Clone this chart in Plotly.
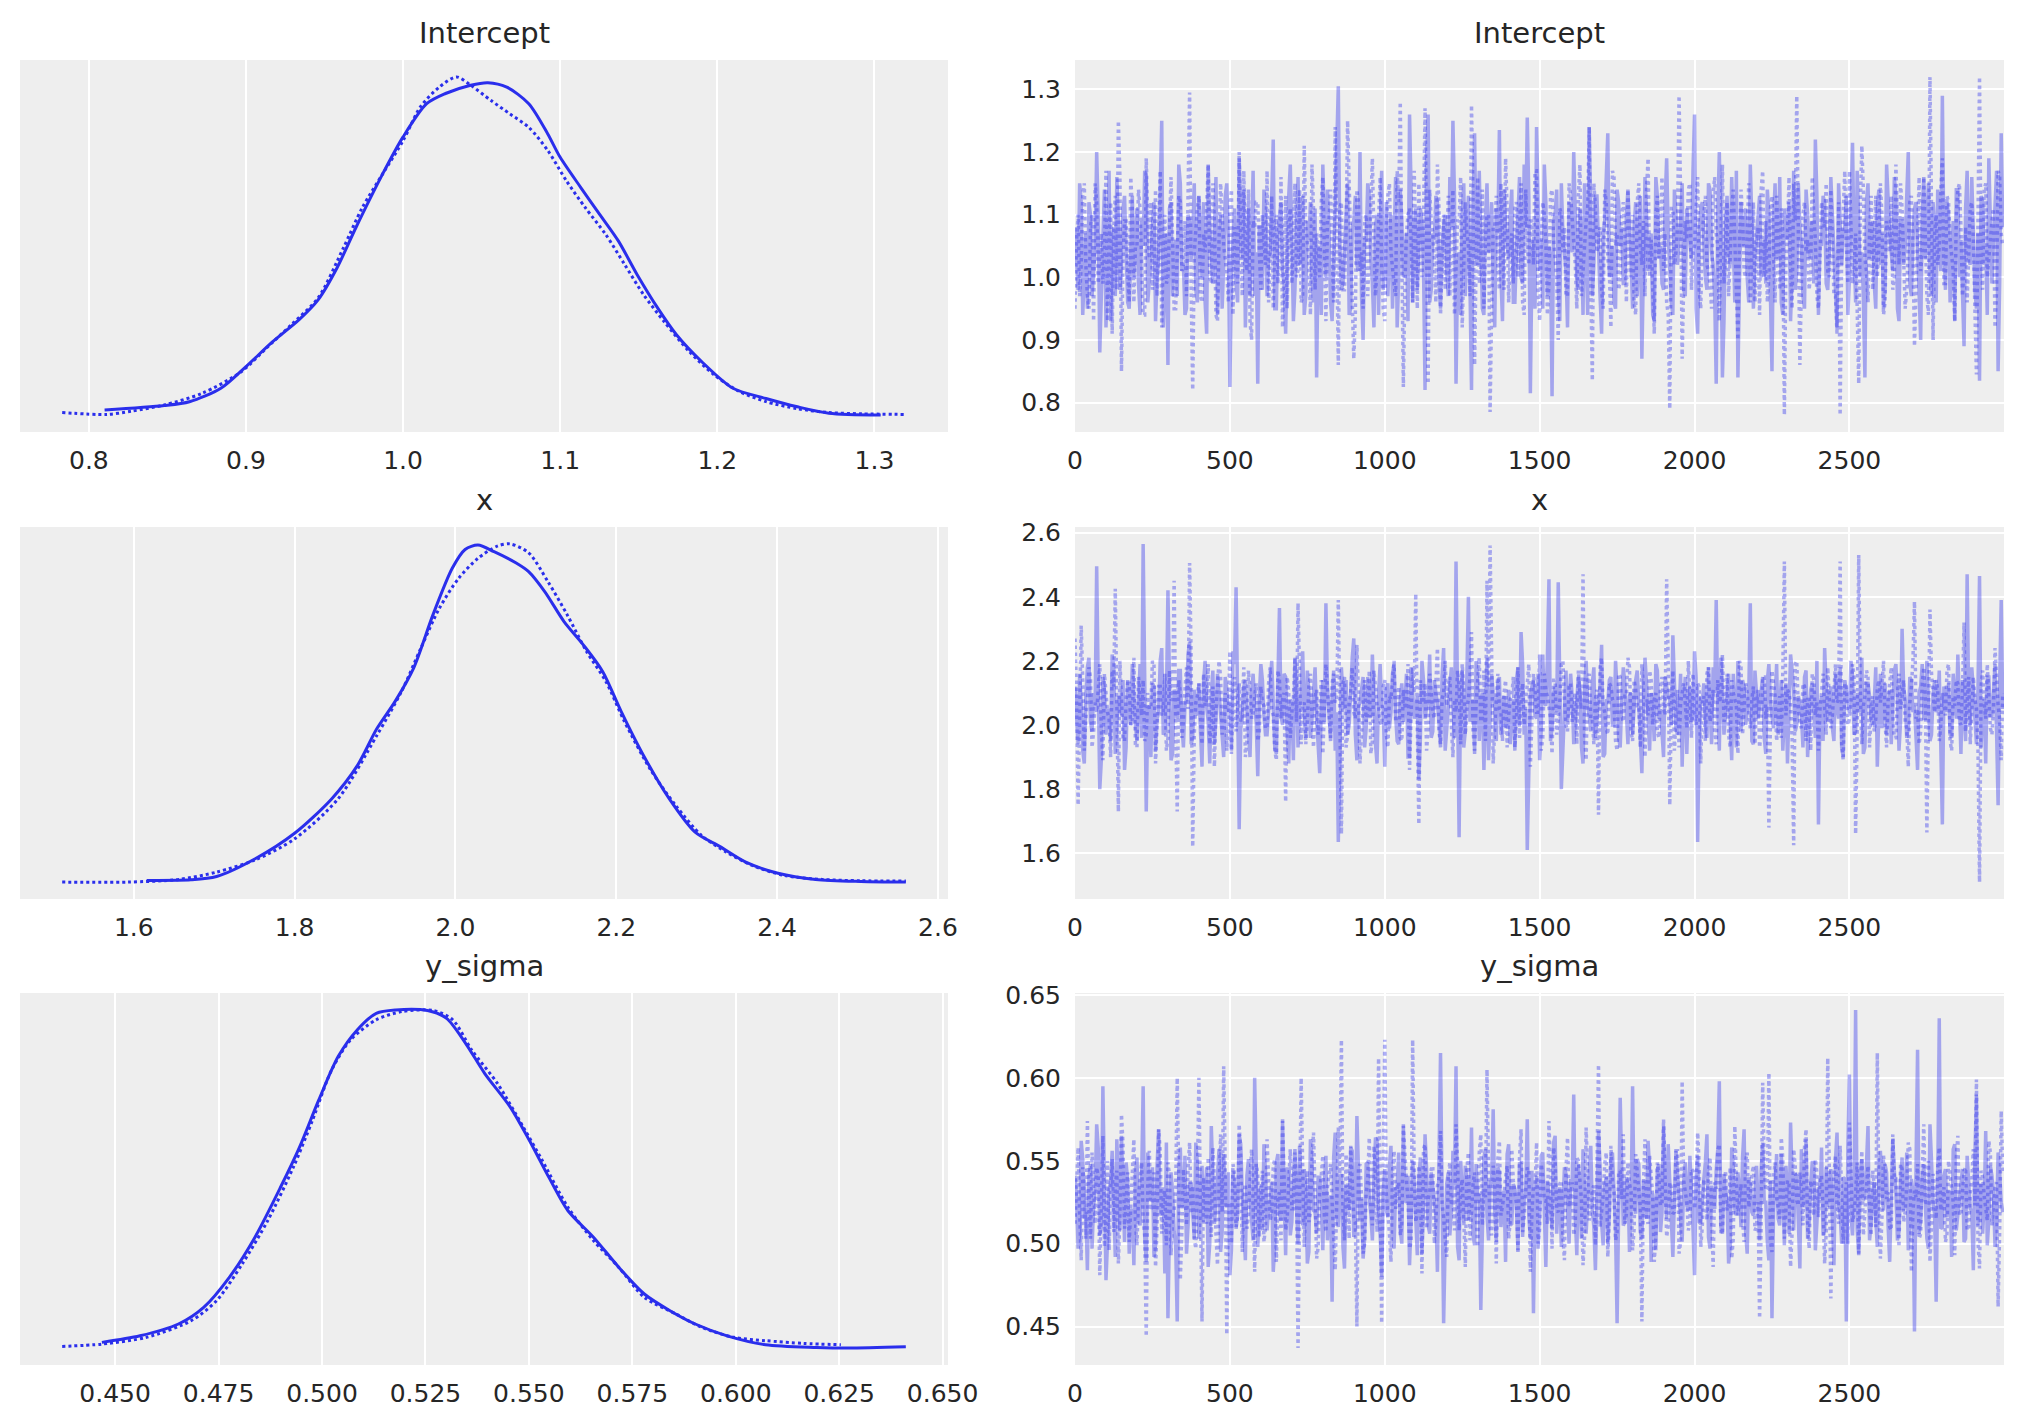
import plotly.graph_objects as go

# ---------------- data ----------------
# draws sampled on two interleaved grids (every 10th draw, and the draws in between)
draws = list(range(0, 3000, 10))
draws_mid = list(range(5, 3000, 10))

intercept_chain0 = [
    1.08, 0.98, 1.12, 1.03, 0.95, 1.10, 1.01, 1.20, 0.88, 1.06, 0.92, 1.17, 1.04, 0.97, 1.09, 1.02, 1.13, 0.96, 1.07, 1.00,
    1.11, 0.94, 1.05, 1.16, 0.99, 1.08, 0.93, 1.03, 1.25, 1.01, 0.86, 1.12, 1.04, 0.97, 1.15, 1.02, 0.95, 1.09, 1.06, 0.98,
    1.13, 1.00, 0.96, 1.18, 1.04, 1.07, 0.94, 1.10, 1.02, 1.15, 0.825, 1.06, 0.99, 1.19, 1.03, 0.92, 1.11, 1.05, 0.97, 0.83,
    1.08, 1.14, 0.97, 1.04, 1.22, 0.95, 1.10, 1.01, 0.91, 1.13, 1.06, 0.98, 1.16, 1.03, 0.94, 1.09, 1.12, 0.96, 0.84, 1.05,
    1.18, 1.00, 1.07, 0.93, 1.11, 1.305, 0.98, 1.04, 1.15, 0.95, 1.09, 1.02, 1.20, 0.90, 1.06, 1.13, 0.99, 1.08, 0.94, 1.17,
    1.03, 0.97, 1.10, 1.05, 0.92, 1.14, 1.00, 1.07, 1.26, 0.96, 1.11, 1.04, 1.09, 0.82, 1.26, 0.98, 1.06, 1.12, 0.95, 1.08,
    1.01, 1.16, 1.25, 0.83, 1.04, 1.10, 0.97, 1.13, 0.82, 1.23, 1.02, 1.07, 0.94, 1.15, 1.05, 0.99, 1.11, 1.235, 0.93, 1.08,
    1.03, 1.14, 0.96, 1.09, 1.00, 1.18, 1.255, 0.815, 1.06, 1.24, 1.01, 0.95, 1.12, 1.05, 0.81, 1.10, 0.98, 1.15, 1.04, 0.92,
    1.07, 1.20, 1.00, 1.11, 0.94, 1.06, 1.24, 0.97, 1.13, 1.03, 0.91, 1.09, 1.23, 1.02, 0.96, 1.14, 1.05, 0.99, 1.10, 1.08,
    0.95, 1.12, 1.04, 0.87, 1.16, 1.01, 1.07, 0.93, 1.13, 1.05, 0.98, 1.19, 1.02, 0.94, 1.10, 1.06, 1.15, 0.97, 1.08, 1.03,
    1.26, 0.91, 1.11, 1.05, 0.98, 1.14, 1.02, 0.83, 1.20, 0.84, 1.09, 1.04, 1.16, 0.96, 0.84, 1.12, 1.06, 1.00, 1.18, 0.95,
    1.07, 1.13, 1.02, 0.99, 1.10, 0.85, 1.15, 1.04, 0.96, 1.11, 1.06, 0.93, 1.17, 1.01, 1.08, 0.97, 1.14, 1.03, 1.09, 1.22,
    0.94, 1.05, 1.12, 0.98, 1.16, 1.03, 0.92, 1.09, 1.07, 1.13, 1.00, 1.215, 0.96, 1.10, 1.04, 0.84, 1.15, 1.06, 0.99, 1.11,
    1.02, 0.95, 1.18, 1.07, 1.01, 1.13, 0.93, 1.09, 1.05, 1.20, 0.97, 1.11, 1.04, 0.90, 1.16, 1.08, 1.00, 1.12, 0.96, 1.06,
    1.29, 0.98, 1.10, 1.03, 0.93, 1.14, 1.06, 0.89, 1.17, 1.02, 1.08, 0.95, 0.835, 1.12, 1.05, 1.19, 0.99, 1.11, 0.85, 1.23,
]
intercept_chain0_mid = [
    1.02, 1.15, 0.94, 1.07, 1.12, 0.97, 1.05, 1.10, 0.99, 1.14, 1.01, 0.93, 1.08, 1.16, 0.98, 1.11, 1.04, 0.95, 1.13, 1.06,
    0.99, 1.09, 1.17, 0.96, 1.03, 1.12, 1.00, 1.14, 0.92, 1.07, 1.11, 0.97, 1.06, 1.18, 1.01, 0.94, 1.10, 1.03, 1.15, 0.96,
    1.05, 1.12, 0.91, 1.08, 0.99, 1.16, 1.03, 0.95, 1.13, 1.06, 1.00, 1.11, 0.96, 1.09, 1.14, 1.02, 0.97, 1.17, 1.04, 1.08,
    0.98, 1.10, 1.03, 1.15, 0.95, 1.07, 1.12, 0.99, 1.05, 1.18, 0.93, 1.09, 1.02, 1.13, 0.97, 1.06, 1.00, 1.11, 1.04, 0.94,
    1.09, 1.14, 0.96, 1.02, 1.17, 1.05, 0.99, 1.11, 0.94, 1.08, 1.13, 1.01, 0.97, 1.06, 1.15, 1.03, 0.92, 1.10, 1.07, 0.98,
    1.12, 1.04, 0.95, 1.16, 1.00, 1.09, 1.03, 0.93, 1.14, 1.06, 0.98, 1.11, 1.02, 1.19, 0.96, 1.07, 1.13, 0.99, 1.05, 1.10,
    0.97, 1.08, 1.13, 1.01, 0.94, 1.15, 1.06, 0.99, 1.11, 1.03, 1.17, 0.95, 1.09, 1.04, 1.12, 0.92, 1.07, 1.00, 1.14, 1.05,
    1.10, 0.96, 1.04, 1.16, 0.99, 1.08, 1.13, 1.02, 0.95, 1.11, 1.06, 1.18, 0.97, 1.03, 1.09, 1.14, 0.93, 1.07, 1.01, 1.12,
    1.04, 1.11, 0.98, 1.06, 1.15, 0.94, 1.09, 1.02, 1.13, 0.97, 1.07, 1.16, 1.00, 1.05, 0.95, 1.12, 1.08, 0.99, 1.14, 1.03,
    1.08, 0.97, 1.13, 1.01, 1.10, 1.05, 0.94, 1.16, 1.03, 0.99, 1.12, 1.07, 0.96, 1.14, 1.02, 1.09, 0.98, 1.11, 1.06, 1.17,
    0.95, 1.07, 1.12, 1.00, 1.15, 1.04, 0.97, 1.10, 1.06, 0.93, 1.13, 1.02, 1.08, 1.17, 0.99, 1.05, 1.11, 0.96, 1.09, 1.03,
    1.11, 1.00, 1.06, 1.14, 0.97, 1.09, 1.03, 1.16, 0.94, 1.08, 1.12, 1.01, 0.98, 1.15, 1.05, 0.95, 1.10, 1.07, 0.99, 1.13,
    1.06, 1.13, 0.99, 1.04, 1.10, 0.96, 1.15, 1.02, 1.08, 0.94, 1.11, 1.05, 1.17, 1.00, 0.97, 1.12, 1.03, 1.09, 0.95, 1.14,
    1.07, 0.98, 1.11, 1.04, 1.16, 0.95, 1.09, 1.02, 1.13, 0.99, 1.06, 1.12, 0.94, 1.10, 1.03, 1.15, 0.97, 1.08, 1.14, 1.01,
    1.05, 1.12, 0.96, 1.09, 1.14, 1.00, 0.95, 1.11, 1.03, 1.16, 0.98, 1.07, 1.13, 1.02, 0.94, 1.10, 1.06, 1.17, 0.99, 1.08,
]
intercept_chain1 = [
    0.95, 1.10, 1.02, 1.15, 0.97, 1.08, 0.93, 1.12, 1.04, 0.99, 1.17, 1.06, 0.91, 1.13, 1.25, 0.85, 1.09, 1.01, 1.16, 0.96,
    1.05, 1.11, 0.94, 1.19, 1.03, 0.98, 1.14, 1.07, 0.92, 1.10, 1.00, 1.16, 0.95, 1.06, 1.12, 1.02, 0.97, 1.295, 0.82, 1.08,
    1.13, 0.96, 1.04, 1.18, 0.99, 1.09, 0.93, 1.15, 1.05, 1.01, 1.11, 0.94, 1.07, 1.20, 0.97, 1.03, 1.14, 0.90, 1.08, 1.12,
    0.98, 1.06, 1.17, 1.02, 0.95, 1.10, 1.04, 0.92, 1.13, 1.08, 0.99, 1.15, 1.01, 0.96, 1.21, 1.05, 0.94, 1.11, 1.07, 1.00,
    1.16, 0.93, 1.09, 1.03, 1.24, 0.86, 1.12, 0.98, 1.25, 1.06, 0.87, 1.14, 1.01, 0.95, 1.10, 1.05, 1.19, 0.97, 1.08, 1.02,
    0.93, 1.13, 1.04, 0.99, 1.17, 1.28, 0.825, 1.07, 1.11, 0.96, 1.05, 1.15, 1.00, 1.27, 0.83, 1.09, 1.03, 1.18, 0.94, 1.10,
    1.06, 0.97, 1.14, 1.02, 1.09, 0.92, 1.12, 1.05, 1.275, 0.86, 1.16, 1.01, 0.95, 1.10, 0.785, 1.08, 1.13, 0.98, 1.04, 1.19,
    0.96, 1.07, 1.11, 1.00, 1.15, 0.94, 1.05, 1.09, 1.02, 1.17, 0.93, 1.12, 1.06, 0.99, 1.14, 1.03, 0.90, 1.10, 1.08, 0.97,
    1.13, 1.04, 0.95, 1.18, 1.01, 1.09, 1.24, 0.835, 1.11, 1.06, 0.98, 1.14, 1.03, 0.92, 1.16, 1.07, 1.00, 1.12, 0.96, 1.05,
    1.10, 0.94, 1.15, 1.02, 0.97, 1.19, 1.06, 0.91, 1.13, 1.08, 1.01, 0.96, 0.79, 1.11, 1.04, 1.29, 0.87, 1.09, 1.14, 0.98,
    1.05, 1.16, 0.95, 1.10, 1.02, 0.99, 1.13, 1.07, 0.93, 1.18, 1.04, 0.97, 1.11, 1.06, 0.90, 1.14, 1.01, 1.08, 0.96, 1.12,
    1.03, 0.94, 1.17, 1.09, 1.00, 1.13, 0.96, 1.05, 1.11, 0.78, 1.07, 1.02, 1.15, 1.29, 0.86, 1.10, 1.04, 0.98, 1.16, 1.06,
    0.95, 1.12, 1.08, 1.01, 1.14, 0.97, 0.91, 0.78, 1.10, 1.05, 1.17, 0.99, 1.07, 0.83, 1.21, 1.03, 0.96, 1.13, 1.06, 1.00,
    1.15, 0.94, 1.09, 1.04, 0.98, 1.18, 1.02, 1.11, 0.95, 1.07, 1.13, 0.89, 1.06, 1.01, 1.16, 0.97, 1.32, 0.90, 1.10, 1.05,
    1.19, 0.99, 1.12, 1.04, 0.93, 1.14, 1.08, 1.02, 0.96, 1.11, 1.06, 0.845, 1.32, 0.98, 1.15, 1.03, 1.09, 0.92, 1.17, 1.07,
]
intercept_chain1_mid = [
    1.06, 0.97, 1.13, 1.02, 0.95, 1.10, 1.15, 0.99, 1.07, 1.04, 0.93, 1.12, 1.08, 0.98, 1.16, 1.03, 1.09, 0.96, 1.11, 1.05,
    1.14, 1.00, 0.94, 1.08, 1.12, 1.03, 0.97, 1.17, 1.05, 0.99, 1.10, 1.06, 0.95, 1.13, 1.01, 1.09, 1.15, 0.98, 1.04, 1.11,
    0.97, 1.07, 1.12, 1.00, 1.15, 0.94, 1.06, 1.10, 1.03, 0.96, 1.14, 1.08, 0.99, 1.05, 1.17, 1.01, 0.93, 1.09, 1.12, 1.04,
    1.10, 1.02, 0.96, 1.13, 1.07, 0.99, 1.16, 1.04, 0.95, 1.11, 1.06, 1.00, 1.14, 0.97, 1.08, 1.03, 1.18, 0.98, 1.05, 1.12,
    1.01, 1.09, 1.14, 0.96, 1.05, 1.11, 0.98, 1.07, 1.15, 1.00, 0.94, 1.12, 1.04, 1.09, 0.97, 1.13, 1.06, 1.02, 1.16, 0.95,
    1.08, 1.15, 1.01, 0.97, 1.12, 1.04, 0.99, 1.10, 1.06, 1.17, 0.95, 1.03, 1.09, 1.00, 1.14, 1.07, 0.96, 1.11, 1.02, 0.98,
    1.13, 1.05, 0.94, 1.09, 1.16, 1.00, 1.07, 0.97, 1.12, 1.03, 0.99, 1.14, 1.06, 1.10, 0.95, 1.08, 1.02, 1.15, 0.98, 1.11,
    1.04, 0.99, 1.12, 1.07, 0.96, 1.14, 1.02, 1.09, 1.17, 0.98, 1.05, 1.10, 0.94, 1.13, 1.06, 1.00, 1.11, 1.04, 0.97, 1.15,
    1.09, 1.02, 1.13, 0.97, 1.06, 1.11, 0.99, 1.15, 1.04, 1.08, 0.95, 1.12, 1.01, 1.17, 1.05, 0.98, 1.10, 1.07, 1.14, 1.00,
    0.96, 1.12, 1.05, 1.09, 1.14, 1.00, 0.97, 1.10, 1.03, 1.16, 1.07, 0.94, 1.11, 1.02, 1.08, 1.13, 0.99, 1.06, 1.15, 1.04,
    1.11, 0.98, 1.07, 1.13, 1.01, 0.95, 1.16, 1.05, 1.09, 0.99, 1.12, 1.03, 1.14, 0.97, 1.06, 1.10, 1.00, 1.15, 1.04, 0.96,
    1.08, 1.14, 1.00, 0.96, 1.11, 1.05, 1.13, 0.98, 1.07, 1.02, 1.16, 0.95, 1.09, 1.04, 0.99, 1.12, 1.06, 1.01, 1.10, 0.97,
    1.03, 1.09, 1.15, 1.00, 1.06, 0.97, 1.12, 1.04, 1.17, 0.99, 1.08, 1.02, 0.95, 1.11, 1.14, 1.01, 1.07, 0.98, 1.13, 1.05,
    1.10, 0.96, 1.06, 1.13, 1.00, 1.09, 1.15, 1.03, 0.98, 1.12, 1.05, 0.99, 1.16, 1.04, 1.08, 0.94, 1.11, 1.07, 1.02, 1.14,
    0.99, 1.13, 1.06, 1.01, 1.10, 1.15, 0.97, 1.08, 1.04, 1.12, 0.95, 1.09, 1.03, 1.14, 1.00, 1.07, 1.11, 0.98, 1.16, 1.05,
]

x_chain0 = [
    2.12, 1.94, 2.07, 1.88, 2.18, 2.01, 2.10, 2.495, 1.80, 2.15, 1.97, 2.05, 2.22, 1.91, 2.09, 2.03, 1.86, 2.14, 2.00, 2.08,
    1.95, 2.19, 2.565, 1.73, 2.06, 2.13, 1.92, 2.04, 2.24, 1.98, 2.42, 1.89, 2.11, 2.02, 2.17, 1.93, 2.08, 2.26, 1.96, 2.05,
    2.13, 1.87, 2.20, 2.01, 2.09, 1.94, 2.16, 2.04, 1.90, 2.11, 2.07, 2.23, 2.43, 1.675, 2.02, 2.14, 1.95, 2.10, 2.06, 1.84,
    2.19, 2.03, 1.97, 2.12, 2.08, 1.91, 2.365, 2.00, 2.15, 1.88, 2.06, 2.21, 1.93, 2.10, 2.04, 2.17, 1.96, 2.09, 2.02, 1.85,
    2.14, 2.38, 2.01, 2.08, 1.92, 1.635, 2.18, 2.05, 1.97, 2.12, 2.27, 1.89, 2.07, 2.15, 1.99, 2.03, 2.22, 1.94, 2.10, 2.06,
    1.87, 2.13, 2.04, 2.19, 1.95, 2.08, 2.01, 2.16, 1.90, 2.11, 2.05, 1.83, 2.20, 2.02, 2.09, 1.96, 2.14, 2.07, 1.93, 2.24,
    2.00, 2.12, 2.06, 2.51, 1.65, 2.17, 1.98, 2.40, 2.04, 1.91, 2.13, 2.08, 1.86, 2.21, 2.03, 2.10, 1.95, 2.15, 2.07, 1.99,
    2.11, 2.04, 1.92, 2.18, 2.29, 1.97, 1.61, 2.09, 2.14, 2.02, 1.89, 2.22, 2.06, 2.455, 1.99, 2.12, 2.445, 1.80, 2.08, 2.01,
    2.16, 1.94, 2.05, 2.10, 1.88, 2.20, 2.03, 2.13, 1.96, 2.08, 2.25, 1.91, 2.07, 2.15, 2.00, 2.11, 1.93, 2.18, 2.04, 2.09,
    1.97, 2.14, 2.06, 1.85, 2.21, 2.02, 2.10, 1.95, 2.17, 2.05, 1.90, 2.12, 2.08, 2.28, 1.99, 2.04, 1.87, 2.15, 2.07, 2.01,
    2.23, 1.635, 2.09, 2.13, 1.96, 2.05, 2.18, 2.39, 1.92, 2.11, 2.03, 2.16, 1.89, 2.07, 2.20, 1.98, 2.12, 2.04, 2.38, 1.94,
    2.10, 2.06, 2.15, 1.91, 2.19, 2.02, 2.08, 1.97, 2.14, 2.05, 1.88, 2.22, 2.11, 2.00, 2.07, 1.93, 2.17, 2.03, 2.13, 1.96,
    1.69, 2.09, 2.24, 2.01, 2.12, 1.95, 2.06, 2.18, 1.90, 2.10, 2.04, 2.15, 1.98, 2.08, 2.21, 1.93, 2.13, 2.02, 2.07, 1.87,
    2.16, 2.05, 1.97, 2.11, 2.03, 2.19, 1.92, 2.30, 2.08, 1.99, 2.14, 2.06, 1.86, 2.12, 2.02, 2.20, 1.95, 2.09, 2.04, 2.17,
    1.69, 2.10, 2.13, 1.96, 2.07, 2.22, 1.91, 2.05, 2.47, 2.00, 2.11, 1.94, 2.465, 2.08, 1.88, 2.15, 2.03, 2.19, 1.75, 2.39,
]
x_chain0_mid = [
    2.03, 2.16, 1.92, 2.09, 2.21, 1.98, 2.06, 2.13, 1.89, 2.11, 2.04, 1.95, 2.18, 2.01, 2.08, 2.14, 1.93, 2.07, 2.19, 2.00,
    2.10, 1.96, 2.15, 2.05, 1.90, 2.12, 2.02, 2.20, 1.97, 2.07, 2.14, 1.91, 2.09, 2.17, 2.00, 2.06, 2.22, 1.94, 2.11, 2.03,
    1.98, 2.13, 2.06, 1.88, 2.17, 2.02, 2.10, 1.95, 2.15, 2.04, 1.92, 2.19, 2.08, 1.99, 2.12, 2.05, 1.90, 2.16, 2.01, 2.09,
    2.14, 1.97, 2.07, 2.20, 1.93, 2.11, 2.03, 2.16, 1.98, 2.08, 1.89, 2.13, 2.05, 2.23, 1.96, 2.10, 2.02, 2.18, 1.94, 2.06,
    2.01, 2.12, 1.95, 2.17, 2.04, 1.91, 2.09, 2.14, 2.00, 2.21, 1.97, 2.06, 2.11, 1.93, 2.15, 2.03, 2.08, 1.88, 2.19, 2.05,
    2.11, 1.99, 2.16, 2.03, 1.94, 2.13, 2.07, 1.90, 2.18, 2.02, 2.09, 1.96, 2.14, 2.05, 2.22, 1.98, 2.10, 2.01, 2.15, 1.92,
    2.07, 2.18, 1.96, 2.04, 2.12, 1.93, 2.15, 2.01, 2.08, 2.20, 1.95, 2.10, 2.03, 1.89, 2.16, 2.06, 2.13, 1.97, 2.09, 2.02,
    1.94, 2.08, 2.14, 2.00, 2.19, 2.05, 1.91, 2.12, 2.03, 2.16, 1.98, 2.07, 2.21, 1.95, 2.10, 2.04, 2.13, 1.92, 2.17, 2.06,
    2.09, 2.01, 2.15, 1.93, 2.11, 2.06, 1.98, 2.18, 2.03, 2.12, 1.90, 2.08, 2.14, 2.00, 2.20, 1.96, 2.07, 2.13, 1.94, 2.10,
    2.04, 2.17, 1.99, 2.08, 2.13, 1.92, 2.05, 2.19, 2.02, 1.95, 2.15, 2.09, 2.00, 2.11, 1.97, 2.16, 2.06, 1.91, 2.12, 2.03,
    2.15, 1.98, 2.07, 2.02, 2.18, 1.94, 2.10, 2.05, 2.21, 1.97, 2.12, 2.01, 2.16, 1.93, 2.08, 2.14, 2.00, 2.09, 1.95, 2.17,
    2.02, 2.11, 1.96, 2.14, 2.07, 1.99, 2.19, 2.04, 1.92, 2.13, 2.06, 2.17, 1.98, 2.09, 2.03, 2.15, 1.90, 2.11, 2.05, 2.20,
    2.06, 1.95, 2.12, 2.08, 1.99, 2.16, 2.02, 1.93, 2.14, 2.07, 2.20, 1.97, 2.10, 2.04, 1.91, 2.13, 2.09, 2.00, 2.18, 2.03,
    1.99, 2.13, 2.05, 1.94, 2.17, 2.09, 2.01, 2.12, 1.96, 2.15, 2.04, 1.92, 2.10, 2.19, 2.02, 2.07, 1.97, 2.14, 2.06, 1.93,
    2.12, 2.04, 1.97, 2.16, 2.02, 2.09, 2.14, 1.95, 2.07, 2.18, 2.00, 2.11, 1.93, 2.06, 2.15, 2.03, 2.10, 1.98, 2.13, 2.05,
]
x_chain1 = [
    2.27, 1.75, 2.31, 1.92, 2.08, 2.15, 1.98, 2.04, 2.19, 1.89, 2.11, 2.02, 2.17, 2.425, 1.73, 2.06, 1.95, 2.13, 2.00, 2.21,
    1.93, 2.09, 2.14, 1.97, 2.05, 2.20, 1.88, 2.12, 2.03, 2.16, 1.96, 2.08, 2.45, 1.73, 2.10, 2.01, 2.18, 2.505, 1.62, 2.07,
    2.13, 1.94, 2.06, 2.19, 2.00, 1.87, 2.11, 2.15, 2.04, 1.92, 2.23, 2.08, 1.98, 2.13, 2.05, 1.90, 2.17, 2.02, 2.09, 1.95,
    2.12, 2.06, 1.99, 2.18, 2.03, 1.89, 2.14, 2.08, 1.76, 2.10, 2.04, 2.21, 2.38, 1.94, 2.07, 2.01, 2.16, 1.93, 2.11, 2.05,
    1.91, 2.19, 2.02, 2.13, 2.07, 2.39, 1.66, 2.15, 1.97, 2.10, 2.04, 2.25, 1.88, 2.09, 2.01, 2.17, 1.95, 2.12, 2.06, 2.00,
    2.14, 1.93, 2.08, 2.20, 2.03, 1.96, 2.11, 2.05, 1.86, 2.18, 2.41, 1.69, 2.07, 2.13, 1.99, 2.09, 2.02, 2.24, 1.94, 2.10,
    2.06, 2.15, 1.90, 2.04, 2.12, 2.19, 1.97, 2.08, 2.29, 1.92, 2.13, 2.01, 2.17, 2.45, 2.56, 1.88, 2.10, 2.05, 1.95, 2.14,
    2.03, 2.09, 1.93, 2.18, 2.07, 2.00, 2.12, 1.87, 2.16, 2.04, 2.22, 1.96, 2.11, 2.06, 1.91, 2.14, 2.02, 2.19, 2.08, 1.98,
    2.13, 2.05, 1.94, 2.10, 2.47, 1.89, 2.16, 2.02, 2.08, 1.72, 2.21, 2.04, 1.97, 2.12, 2.07, 1.92, 2.15, 2.01, 2.09, 2.18,
    1.95, 2.11, 2.06, 2.19, 1.90, 2.03, 2.14, 2.08, 1.98, 2.12, 2.05, 2.455, 1.75, 2.17, 2.02, 1.93, 2.10, 2.07, 2.20, 1.96,
    2.04, 2.13, 1.88, 2.09, 2.16, 2.01, 2.11, 1.94, 2.07, 2.22, 2.03, 1.97, 2.14, 2.08, 1.91, 2.18, 2.05, 2.10, 1.99, 2.12,
    2.06, 1.93, 2.15, 2.02, 1.68, 2.17, 2.09, 2.04, 1.96, 2.51, 2.11, 2.07, 1.625, 2.20, 2.01, 2.13, 1.95, 2.08, 2.16, 2.03,
    1.92, 2.10, 2.05, 2.18, 1.99, 2.14, 2.07, 2.51, 1.89, 2.12, 2.02, 2.19, 1.66, 2.53, 1.94, 2.09, 2.15, 2.04, 1.98, 2.11,
    2.07, 2.20, 1.93, 2.13, 2.03, 1.96, 2.16, 2.09, 2.01, 1.87, 2.12, 2.385, 2.05, 1.98, 2.18, 1.665, 2.36, 2.08, 2.14, 1.95,
    2.10, 2.03, 2.19, 1.92, 2.06, 2.13, 2.00, 2.32, 2.09, 1.94, 2.15, 2.05, 1.51, 2.17, 2.02, 2.11, 1.97, 2.24, 2.06, 1.89,
]
x_chain1_mid = [
    2.09, 1.97, 2.14, 2.02, 2.18, 1.93, 2.07, 2.11, 1.99, 2.16, 2.04, 1.90, 2.12, 2.06, 2.20, 1.96, 2.08, 2.13, 2.01, 1.94,
    2.15, 2.03, 1.95, 2.10, 2.06, 2.19, 1.98, 2.12, 2.04, 1.92, 2.17, 2.08, 2.00, 2.14, 1.96, 2.11, 2.05, 2.21, 1.97, 2.09,
    2.02, 2.16, 2.08, 1.94, 2.12, 2.05, 2.20, 1.97, 2.10, 2.03, 1.91, 2.15, 2.07, 2.01, 2.18, 1.95, 2.11, 2.04, 2.13, 1.98,
    2.07, 1.99, 2.13, 2.05, 1.92, 2.17, 2.02, 2.10, 2.15, 1.96, 2.08, 2.01, 2.19, 2.06, 1.94, 2.12, 2.03, 2.09, 1.97, 2.14,
    2.04, 2.11, 1.96, 2.16, 2.08, 2.00, 2.13, 1.93, 2.07, 2.18, 2.02, 2.10, 1.98, 2.14, 2.05, 1.91, 2.17, 2.06, 2.01, 2.12,
    1.97, 2.09, 2.15, 2.01, 2.12, 1.95, 2.06, 2.19, 2.03, 2.10, 1.99, 2.14, 2.07, 1.92, 2.16, 2.04, 2.11, 1.98, 2.08, 2.20,
    2.13, 2.00, 2.08, 2.17, 1.94, 2.11, 2.05, 2.15, 1.98, 2.07, 2.21, 2.02, 1.95, 2.12, 2.09, 1.99, 2.16, 2.04, 2.10, 1.93,
    2.08, 2.15, 2.01, 1.96, 2.13, 2.06, 2.19, 1.99, 2.11, 2.04, 1.92, 2.16, 2.09, 2.02, 2.14, 1.97, 2.07, 2.20, 2.00, 2.12,
    2.01, 2.10, 2.17, 2.05, 1.97, 2.14, 2.02, 1.94, 2.11, 2.18, 2.06, 1.99, 2.13, 2.08, 1.95, 2.16, 2.03, 2.09, 2.21, 1.98,
    2.14, 2.06, 1.93, 2.12, 2.08, 2.17, 2.00, 2.10, 1.96, 2.15, 2.03, 2.19, 2.05, 1.92, 2.11, 2.07, 2.13, 1.99, 2.04, 2.16,
    2.00, 2.12, 2.07, 1.95, 2.18, 2.04, 1.98, 2.14, 2.09, 2.01, 2.16, 1.93, 2.10, 2.06, 2.20, 1.97, 2.13, 2.03, 2.08, 1.94,
    2.11, 1.98, 2.15, 2.06, 2.01, 2.13, 1.95, 2.09, 2.17, 2.03, 2.10, 1.96, 2.19, 2.05, 1.99, 2.12, 2.08, 1.92, 2.14, 2.07,
    2.05, 2.16, 1.97, 2.10, 2.03, 2.19, 2.08, 1.94, 2.13, 2.00, 2.07, 2.15, 1.98, 2.11, 2.06, 2.17, 1.93, 2.09, 2.02, 2.14,
    2.12, 2.01, 2.08, 2.18, 1.96, 2.10, 2.05, 2.14, 1.99, 2.07, 2.20, 2.02, 1.94, 2.13, 2.09, 1.97, 2.16, 2.04, 2.11, 2.00,
    2.06, 2.17, 1.95, 2.09, 2.14, 2.01, 2.11, 1.98, 2.15, 2.04, 2.08, 1.93, 2.12, 2.07, 2.19, 1.99, 2.05, 2.13, 2.02, 2.10,
]

y_sigma_chain0 = [
    0.541, 0.497, 0.562, 0.515, 0.484, 0.548, 0.523, 0.572, 0.505, 0.595, 0.478, 0.533, 0.556, 0.492, 0.527, 0.565, 0.501, 0.538, 0.519, 0.487,
    0.552, 0.511, 0.595, 0.489, 0.531, 0.546, 0.499, 0.569, 0.521, 0.482, 0.455, 0.543, 0.507, 0.453, 0.558, 0.525, 0.494, 0.536, 0.516, 0.561,
    0.503, 0.547, 0.528, 0.486, 0.571, 0.512, 0.539, 0.495, 0.554, 0.522, 0.481, 0.544, 0.509, 0.566, 0.530, 0.490, 0.551, 0.517, 0.600, 0.498,
    0.535, 0.560, 0.508, 0.526, 0.483, 0.549, 0.518, 0.574, 0.493, 0.537, 0.513, 0.557, 0.500, 0.529, 0.545, 0.488, 0.563, 0.520, 0.506, 0.540,
    0.496, 0.553, 0.524, 0.465, 0.567, 0.510, 0.542, 0.485, 0.532, 0.558, 0.504, 0.577, 0.514, 0.491, 0.548, 0.527, 0.502, 0.564, 0.521, 0.480,
    0.545, 0.516, 0.559, 0.497, 0.534, 0.508, 0.572, 0.525, 0.487, 0.550, 0.519, 0.539, 0.494, 0.566, 0.511, 0.543, 0.528, 0.483, 0.615, 0.452,
    0.536, 0.505, 0.556, 0.607, 0.490, 0.530, 0.547, 0.514, 0.570, 0.499, 0.526, 0.460, 0.552, 0.517, 0.538, 0.581, 0.501, 0.543, 0.522, 0.489,
    0.560, 0.512, 0.533, 0.496, 0.548, 0.527, 0.575, 0.503, 0.458, 0.541, 0.519, 0.555, 0.486, 0.531, 0.509, 0.565, 0.524, 0.498, 0.546, 0.515,
    0.539, 0.590, 0.493, 0.529, 0.557, 0.506, 0.544, 0.520, 0.484, 0.568, 0.513, 0.535, 0.500, 0.552, 0.526, 0.452, 0.588, 0.511, 0.540, 0.495,
    0.595, 0.518, 0.548, 0.503, 0.532, 0.562, 0.489, 0.523, 0.545, 0.507, 0.571, 0.515, 0.537, 0.492, 0.556, 0.528, 0.501, 0.549, 0.520, 0.534,
    0.481, 0.553, 0.512, 0.539, 0.566, 0.497, 0.527, 0.544, 0.598, 0.506, 0.530, 0.488, 0.558, 0.521, 0.543, 0.510, 0.569, 0.494, 0.536, 0.517,
    0.547, 0.502, 0.561, 0.525, 0.490, 0.455, 0.538, 0.515, 0.554, 0.499, 0.532, 0.573, 0.508, 0.541, 0.485, 0.527, 0.563, 0.513, 0.549, 0.496,
    0.534, 0.558, 0.509, 0.522, 0.545, 0.487, 0.567, 0.518, 0.540, 0.453, 0.602, 0.505, 0.641, 0.493, 0.551, 0.529, 0.571, 0.512, 0.537, 0.498,
    0.556, 0.520, 0.543, 0.489, 0.563, 0.531, 0.507, 0.552, 0.526, 0.496, 0.539, 0.447, 0.617, 0.514, 0.548, 0.503, 0.572, 0.524, 0.465, 0.636,
    0.510, 0.545, 0.528, 0.492, 0.560, 0.517, 0.536, 0.501, 0.553, 0.521, 0.484, 0.590, 0.532, 0.506, 0.568, 0.514, 0.541, 0.498, 0.555, 0.525,
]
y_sigma_chain0_mid = [
    0.528, 0.506, 0.551, 0.519, 0.540, 0.497, 0.533, 0.558, 0.512, 0.545, 0.501, 0.537, 0.524, 0.563, 0.508, 0.530, 0.549, 0.494, 0.521, 0.542,
    0.515, 0.538, 0.504, 0.555, 0.526, 0.492, 0.547, 0.517, 0.534, 0.561, 0.509, 0.531, 0.499, 0.544, 0.522, 0.553, 0.511, 0.536, 0.503, 0.548,
    0.532, 0.513, 0.546, 0.500, 0.539, 0.525, 0.557, 0.507, 0.529, 0.543, 0.496, 0.535, 0.518, 0.560, 0.510, 0.541, 0.527, 0.502, 0.550, 0.520,
    0.508, 0.543, 0.521, 0.537, 0.499, 0.554, 0.514, 0.530, 0.546, 0.505, 0.539, 0.523, 0.559, 0.511, 0.533, 0.495, 0.548, 0.519, 0.540, 0.526,
    0.537, 0.502, 0.529, 0.552, 0.516, 0.540, 0.498, 0.535, 0.520, 0.556, 0.510, 0.544, 0.527, 0.503, 0.549, 0.518, 0.538, 0.562, 0.507, 0.531,
    0.520, 0.547, 0.509, 0.533, 0.555, 0.500, 0.526, 0.541, 0.514, 0.537, 0.493, 0.552, 0.522, 0.545, 0.506, 0.534, 0.517, 0.558, 0.529, 0.501,
    0.543, 0.519, 0.535, 0.498, 0.550, 0.513, 0.539, 0.525, 0.505, 0.548, 0.530, 0.516, 0.557, 0.502, 0.536, 0.521, 0.546, 0.510, 0.532, 0.554,
    0.511, 0.536, 0.522, 0.549, 0.504, 0.531, 0.517, 0.544, 0.527, 0.497, 0.553, 0.514, 0.538, 0.521, 0.561, 0.506, 0.534, 0.518, 0.542, 0.500,
    0.534, 0.516, 0.548, 0.503, 0.537, 0.525, 0.559, 0.510, 0.531, 0.546, 0.499, 0.540, 0.518, 0.555, 0.508, 0.529, 0.544, 0.513, 0.536, 0.521,
    0.524, 0.551, 0.507, 0.538, 0.515, 0.545, 0.530, 0.496, 0.548, 0.519, 0.534, 0.560, 0.505, 0.527, 0.542, 0.512, 0.537, 0.523, 0.553, 0.509,
    0.539, 0.513, 0.530, 0.549, 0.504, 0.535, 0.521, 0.557, 0.510, 0.542, 0.526, 0.498, 0.546, 0.517, 0.533, 0.552, 0.507, 0.540, 0.519, 0.528,
    0.516, 0.544, 0.525, 0.501, 0.538, 0.519, 0.554, 0.511, 0.535, 0.547, 0.506, 0.529, 0.542, 0.514, 0.557, 0.522, 0.503, 0.536, 0.549, 0.512,
    0.527, 0.505, 0.546, 0.532, 0.514, 0.551, 0.523, 0.500, 0.539, 0.558, 0.517, 0.534, 0.509, 0.543, 0.526, 0.548, 0.502, 0.531, 0.515, 0.540,
    0.533, 0.548, 0.510, 0.527, 0.544, 0.502, 0.537, 0.520, 0.555, 0.513, 0.531, 0.546, 0.506, 0.539, 0.524, 0.497, 0.550, 0.518, 0.535, 0.509,
    0.541, 0.516, 0.532, 0.557, 0.508, 0.528, 0.545, 0.503, 0.538, 0.520, 0.552, 0.511, 0.536, 0.524, 0.499, 0.547, 0.530, 0.513, 0.543, 0.519,
]
y_sigma_chain1 = [
    0.512, 0.558, 0.490, 0.537, 0.574, 0.503, 0.529, 0.546, 0.481, 0.565, 0.518, 0.496, 0.551, 0.534, 0.488, 0.578, 0.509, 0.543, 0.522, 0.563,
    0.499, 0.540, 0.515, 0.444, 0.556, 0.527, 0.486, 0.569, 0.506, 0.532, 0.549, 0.493, 0.520, 0.600, 0.478, 0.545, 0.511, 0.561, 0.535, 0.497,
    0.600, 0.453, 0.528, 0.552, 0.504, 0.539, 0.487, 0.566, 0.607, 0.445, 0.523, 0.548, 0.510, 0.572, 0.495, 0.536, 0.517, 0.557, 0.483, 0.542,
    0.526, 0.501, 0.563, 0.514, 0.547, 0.489, 0.531, 0.576, 0.508, 0.538, 0.521, 0.555, 0.437, 0.600, 0.498, 0.544, 0.519, 0.567, 0.491, 0.533,
    0.553, 0.507, 0.540, 0.525, 0.484, 0.570, 0.623, 0.502, 0.536, 0.559, 0.515, 0.450, 0.548, 0.494, 0.530, 0.564, 0.511, 0.543, 0.612, 0.452,
    0.623, 0.520, 0.489, 0.556, 0.532, 0.505, 0.571, 0.538, 0.497, 0.623, 0.513, 0.547, 0.482, 0.560, 0.527, 0.545, 0.500, 0.535, 0.568, 0.516,
    0.492, 0.549, 0.529, 0.572, 0.508, 0.539, 0.486, 0.555, 0.521, 0.543, 0.498, 0.566, 0.533, 0.605, 0.511, 0.547, 0.488, 0.562, 0.524, 0.540,
    0.503, 0.557, 0.530, 0.494, 0.569, 0.516, 0.546, 0.483, 0.535, 0.561, 0.509, 0.541, 0.526, 0.574, 0.497, 0.550, 0.519, 0.538, 0.490, 0.564,
    0.527, 0.505, 0.552, 0.540, 0.487, 0.570, 0.514, 0.533, 0.499, 0.608, 0.522, 0.548, 0.492, 0.559, 0.531, 0.507, 0.544, 0.566, 0.518, 0.536,
    0.496, 0.554, 0.528, 0.453, 0.563, 0.512, 0.541, 0.489, 0.549, 0.523, 0.575, 0.504, 0.537, 0.518, 0.556, 0.494, 0.598, 0.530, 0.508, 0.545,
    0.521, 0.567, 0.498, 0.539, 0.514, 0.552, 0.486, 0.533, 0.560, 0.506, 0.544, 0.525, 0.491, 0.571, 0.517, 0.536, 0.501, 0.555, 0.529, 0.547,
    0.510, 0.455, 0.597, 0.532, 0.603, 0.495, 0.549, 0.520, 0.564, 0.503, 0.538, 0.486, 0.557, 0.526, 0.543, 0.511, 0.569, 0.497, 0.533, 0.551,
    0.516, 0.541, 0.488, 0.612, 0.467, 0.545, 0.524, 0.559, 0.500, 0.537, 0.573, 0.513, 0.530, 0.494, 0.556, 0.520, 0.547, 0.505, 0.535, 0.615,
    0.491, 0.553, 0.527, 0.510, 0.566, 0.539, 0.498, 0.545, 0.519, 0.561, 0.483, 0.532, 0.548, 0.506, 0.572, 0.523, 0.489, 0.542, 0.515, 0.558,
    0.529, 0.501, 0.550, 0.536, 0.493, 0.565, 0.518, 0.544, 0.508, 0.531, 0.557, 0.599, 0.485, 0.540, 0.522, 0.562, 0.511, 0.534, 0.462, 0.580,
]
y_sigma_chain1_mid = [
    0.535, 0.519, 0.546, 0.503, 0.529, 0.555, 0.512, 0.540, 0.524, 0.498, 0.550, 0.531, 0.507, 0.544, 0.517, 0.560, 0.526, 0.501, 0.538, 0.514,
    0.528, 0.549, 0.505, 0.536, 0.520, 0.543, 0.510, 0.556, 0.527, 0.499, 0.541, 0.515, 0.533, 0.552, 0.508, 0.530, 0.545, 0.518, 0.503, 0.537,
    0.521, 0.540, 0.512, 0.531, 0.558, 0.506, 0.534, 0.519, 0.547, 0.525, 0.500, 0.542, 0.516, 0.553, 0.529, 0.509, 0.537, 0.523, 0.548, 0.504,
    0.544, 0.510, 0.532, 0.519, 0.551, 0.527, 0.502, 0.539, 0.515, 0.557, 0.521, 0.535, 0.506, 0.546, 0.524, 0.513, 0.550, 0.530, 0.498, 0.541,
    0.517, 0.534, 0.548, 0.509, 0.526, 0.542, 0.520, 0.554, 0.503, 0.537, 0.513, 0.545, 0.528, 0.500, 0.539, 0.522, 0.559, 0.507, 0.532, 0.546,
    0.530, 0.506, 0.543, 0.521, 0.537, 0.512, 0.552, 0.527, 0.501, 0.544, 0.518, 0.535, 0.557, 0.509, 0.531, 0.547, 0.514, 0.539, 0.524, 0.503,
    0.540, 0.523, 0.508, 0.549, 0.532, 0.515, 0.545, 0.502, 0.536, 0.520, 0.555, 0.511, 0.528, 0.543, 0.505, 0.534, 0.551, 0.517, 0.529, 0.547,
    0.514, 0.538, 0.525, 0.552, 0.507, 0.530, 0.544, 0.519, 0.533, 0.500, 0.548, 0.526, 0.512, 0.541, 0.558, 0.520, 0.536, 0.504, 0.545, 0.522,
    0.537, 0.513, 0.550, 0.526, 0.504, 0.541, 0.521, 0.535, 0.547, 0.510, 0.529, 0.555, 0.516, 0.538, 0.502, 0.543, 0.527, 0.512, 0.549, 0.531,
    0.509, 0.542, 0.522, 0.536, 0.516, 0.553, 0.528, 0.505, 0.540, 0.524, 0.547, 0.511, 0.534, 0.519, 0.556, 0.501, 0.538, 0.525, 0.513, 0.544,
    0.532, 0.548, 0.510, 0.529, 0.543, 0.518, 0.537, 0.556, 0.506, 0.533, 0.520, 0.546, 0.503, 0.539, 0.527, 0.514, 0.550, 0.522, 0.541, 0.508,
    0.525, 0.511, 0.545, 0.534, 0.502, 0.540, 0.528, 0.515, 0.551, 0.519, 0.536, 0.507, 0.547, 0.523, 0.532, 0.558, 0.510, 0.538, 0.517, 0.543,
    0.539, 0.521, 0.507, 0.546, 0.530, 0.553, 0.512, 0.535, 0.524, 0.500, 0.542, 0.518, 0.549, 0.527, 0.505, 0.537, 0.522, 0.544, 0.510, 0.531,
    0.516, 0.544, 0.531, 0.508, 0.539, 0.522, 0.548, 0.513, 0.535, 0.557, 0.519, 0.528, 0.503, 0.541, 0.526, 0.550, 0.511, 0.533, 0.546, 0.520,
    0.534, 0.506, 0.541, 0.525, 0.552, 0.517, 0.530, 0.546, 0.509, 0.538, 0.523, 0.501, 0.544, 0.529, 0.514, 0.555, 0.520, 0.537, 0.508, 0.542,
]

# KDE curves (value grid, density)
intercept_kde0_x = [0.810, 0.848, 0.864, 0.884, 0.900, 0.917, 0.934, 0.946, 0.958, 0.970, 0.987, 1.000, 1.015, 1.027, 1.043, 1.054,
                    1.066, 1.080, 1.092, 1.100, 1.113, 1.125, 1.137, 1.149, 1.162, 1.174, 1.190, 1.210, 1.231, 1.251, 1.271, 1.304]
intercept_kde0_y = [0.08, 0.15, 0.21, 0.42, 0.76, 1.15, 1.50, 1.81, 2.31, 2.94, 3.78, 4.36, 4.88, 5.04, 5.17, 5.21,
                    5.14, 4.88, 4.41, 4.04, 3.57, 3.15, 2.73, 2.20, 1.68, 1.26, 0.84, 0.42, 0.26, 0.13, 0.03, 0.00]
intercept_kde1_x = [0.783, 0.811, 0.827, 0.848, 0.872, 0.897, 0.913, 0.929, 0.946, 0.962, 0.974, 0.987, 1.000, 1.011, 1.023, 1.034,
                    1.043, 1.056, 1.068, 1.080, 1.092, 1.104, 1.116, 1.129, 1.141, 1.153, 1.166, 1.182, 1.198, 1.214, 1.231, 1.251,
                    1.271, 1.292, 1.320]
intercept_kde1_y = [0.04, 0.01, 0.06, 0.16, 0.34, 0.68, 1.05, 1.42, 1.84, 2.62, 3.25, 3.78, 4.30, 4.83, 5.14, 5.30,
                    5.17, 4.93, 4.72, 4.51, 4.15, 3.67, 3.25, 2.83, 2.36, 1.89, 1.47, 1.00, 0.63, 0.37, 0.21, 0.10,
                    0.04, 0.02, 0.01]

x_kde0_x = [1.616, 1.671, 1.703, 1.751, 1.800, 1.846, 1.878, 1.902, 1.925, 1.948, 1.972, 1.996, 2.012, 2.028, 2.048, 2.075,
            2.091, 2.111, 2.135, 2.159, 2.183, 2.206, 2.234, 2.266, 2.298, 2.329, 2.361, 2.401, 2.448, 2.504, 2.560]
x_kde0_y = [0.015, 0.02, 0.05, 0.21, 0.44, 0.75, 1.05, 1.38, 1.63, 1.93, 2.41, 2.83, 3.00, 3.04, 2.98, 2.88,
            2.80, 2.62, 2.35, 2.14, 1.90, 1.54, 1.14, 0.75, 0.45, 0.32, 0.18, 0.08, 0.024, 0.006, 0.0]
x_kde1_x = [1.511, 1.592, 1.656, 1.703, 1.751, 1.800, 1.854, 1.902, 1.933, 1.957, 1.980, 2.004, 2.028, 2.052, 2.068, 2.091,
            2.115, 2.139, 2.163, 2.187, 2.210, 2.242, 2.274, 2.306, 2.337, 2.369, 2.409, 2.456, 2.504, 2.560]
x_kde1_y = [0.0, 0.0, 0.024, 0.09, 0.20, 0.39, 0.75, 1.32, 1.72, 2.11, 2.47, 2.74, 2.92, 3.03, 3.05, 2.97,
            2.71, 2.41, 2.08, 1.81, 1.45, 1.02, 0.69, 0.42, 0.27, 0.15, 0.06, 0.024, 0.012, 0.01]

y_sigma_kde0_x = [0.4468, 0.4560, 0.4653, 0.4714, 0.4776, 0.4838, 0.4900, 0.4946, 0.4992, 0.5039, 0.5085, 0.5131, 0.5178, 0.5255,
                  0.5301, 0.5347, 0.5393, 0.5455, 0.5501, 0.5548, 0.5594, 0.5656, 0.5717, 0.5779, 0.5841, 0.5902, 0.5979,
                  0.6072, 0.6195, 0.6272, 0.6411]
y_sigma_kde0_y = [0.27, 0.58, 1.14, 1.93, 3.35, 5.25, 7.62, 9.52, 11.73, 13.79, 15.05, 15.84, 16.00, 15.97,
                  15.60, 14.42, 13.00, 11.40, 9.83, 8.09, 6.51, 5.25, 3.83, 2.56, 1.77, 1.14, 0.58,
                  0.16, 0.03, 0.00, 0.06]
y_sigma_kde1_x = [0.4372, 0.4468, 0.4576, 0.4684, 0.4745, 0.4807, 0.4869, 0.4931, 0.4977, 0.5023, 0.5069, 0.5131, 0.5193, 0.5270,
                  0.5316, 0.5362, 0.5424, 0.5486, 0.5532, 0.5594, 0.5656, 0.5717, 0.5779, 0.5856, 0.5918, 0.5995, 0.6072,
                  0.6164, 0.6254]
y_sigma_kde1_y = [0.08, 0.19, 0.51, 1.30, 2.24, 3.98, 6.04, 8.57, 10.78, 13.15, 14.58, 15.53, 15.92, 15.97,
                  15.53, 14.10, 12.52, 10.47, 8.89, 6.67, 5.09, 3.83, 2.40, 1.61, 0.98, 0.51, 0.35,
                  0.22, 0.16]

var_names = ["Intercept", "x", "y_sigma"]
kde_tick_start = [0.8, 1.6, 0.45]
kde_tick_step = [0.1, 0.2, 0.025]
kde_tick_fmt = [".1f", ".1f", ".3f"]
trace_tick_start = [0.8, 1.6, 0.45]
trace_tick_step = [0.1, 0.2, 0.05]
trace_tick_fmt = [".1f", ".1f", ".2f"]
draw_ticks = [0, 500, 1000, 1500, 2000, 2500]

kdes = [
    [(intercept_kde0_x, intercept_kde0_y), (intercept_kde1_x, intercept_kde1_y)],
    [(x_kde0_x, x_kde0_y), (x_kde1_x, x_kde1_y)],
    [(y_sigma_kde0_x, y_sigma_kde0_y), (y_sigma_kde1_x, y_sigma_kde1_y)],
]
traces = [
    [(intercept_chain0, intercept_chain0_mid), (intercept_chain1, intercept_chain1_mid)],
    [(x_chain0, x_chain0_mid), (x_chain1, x_chain1_mid)],
    [(y_sigma_chain0, y_sigma_chain0_mid), (y_sigma_chain1, y_sigma_chain1_mid)],
]

for chains in traces:
    for a, b in chains:
        assert len(a) == len(draws) and len(b) == len(draws_mid), \
            [(len(p), len(q)) for ch in traces for p, q in ch]


def interleave(a, b):
    return [v for pair in zip(a, b) for v in pair]


all_draws = interleave(draws, draws_mid)

# ---------------- styling ----------------
W, H = 2023, 1423
BLUE = "#2a2eec"
TRACE_COL = "rgba(42,46,236,0.38)"
BG = "#eeeeee"
TXT = "#262626"
FONT = "DejaVu Sans"
TICK_SIZE = 25
TITLE_SIZE = 29

row_dom = [(1 - 432 / H, 1 - 60 / H), (1 - 899 / H, 1 - 527 / H), (1 - 1365 / H, 1 - 993 / H)]
left_dom = (20 / W, 948 / W)
right_dom = (1075 / W, 2004 / W)
dashes = ["solid", "dot"]


def padded(lo, hi, frac=0.05):
    r = hi - lo
    return [lo - frac * r, hi + frac * r]


fig = go.Figure()
layout = dict(
    width=W, height=H,
    autosize=False,
    margin=dict(l=0, r=0, t=0, b=0, pad=0, autoexpand=False),
    paper_bgcolor="white",
    plot_bgcolor=BG,
    showlegend=False,
    font=dict(family=FONT, color=TXT, size=TICK_SIZE),
)
annotations = []

for i, name in enumerate(var_names):
    ia = 2 * i + 1
    ib = 2 * i + 2
    # ---- KDE panel ----
    all_x = [v for (xs, ys) in kdes[i] for v in xs]
    all_y = [v for (xs, ys) in kdes[i] for v in ys]
    for k, (xs, ys) in enumerate(kdes[i]):
        fig.add_trace(go.Scatter(
            x=xs, y=ys, mode="lines",
            line=dict(color=BLUE, width=3, dash=dashes[k], shape="spline", smoothing=0.8),
            xaxis=f"x{ia}", yaxis=f"y{ia}", hoverinfo="skip",
        ))
    layout[f"xaxis{ia}"] = dict(
        domain=list(left_dom), anchor=f"y{ia}", range=padded(min(all_x), max(all_x)),
        tick0=kde_tick_start[i], dtick=kde_tick_step[i], tickformat=kde_tick_fmt[i],
        showgrid=True, gridcolor="white", gridwidth=1.5, zeroline=False, showline=False,
        ticks="outside", ticklen=6, tickcolor="rgba(0,0,0,0)", automargin=False,
        tickfont=dict(size=TICK_SIZE, color=TXT, family=FONT),
    )
    layout[f"yaxis{ia}"] = dict(
        domain=list(row_dom[i]), anchor=f"x{ia}", range=padded(min(all_y), max(all_y)),
        showticklabels=False, showgrid=False, zeroline=False, showline=False, ticks="",
        automargin=False,
    )
    # ---- trace panel ----
    all_t = [v for a, b in traces[i] for v in a + b]
    for k, (a, b) in enumerate(traces[i]):
        fig.add_trace(go.Scatter(
            x=all_draws, y=interleave(a, b), mode="lines",
            line=dict(color=TRACE_COL, width=3.5, dash=dashes[k]),
            xaxis=f"x{ib}", yaxis=f"y{ib}", hoverinfo="skip",
        ))
    layout[f"xaxis{ib}"] = dict(
        domain=list(right_dom), anchor=f"y{ib}", range=[0, 2999],
        tickmode="array", tickvals=draw_ticks, ticktext=[str(t) for t in draw_ticks],
        showgrid=True, gridcolor="white", gridwidth=2, zeroline=False, showline=False,
        ticks="outside", ticklen=6, tickcolor="rgba(0,0,0,0)", automargin=False,
        tickfont=dict(size=TICK_SIZE, color=TXT, family=FONT),
    )
    layout[f"yaxis{ib}"] = dict(
        domain=list(row_dom[i]), anchor=f"x{ib}", range=padded(min(all_t), max(all_t)),
        tick0=trace_tick_start[i], dtick=trace_tick_step[i], tickformat=trace_tick_fmt[i],
        showgrid=True, gridcolor="white", gridwidth=2, zeroline=False, showline=False,
        ticks="outside", ticklen=8, tickcolor="rgba(0,0,0,0)", automargin=False,
        tickfont=dict(size=TICK_SIZE, color=TXT, family=FONT),
    )
    for dom in (left_dom, right_dom):
        annotations.append(dict(
            text=name, xref="paper", yref="paper",
            x=(dom[0] + dom[1]) / 2, y=row_dom[i][1],
            xanchor="center", yanchor="middle", yshift=27, showarrow=False,
            font=dict(size=TITLE_SIZE, color=TXT, family=FONT),
        ))

layout["annotations"] = annotations
fig.update_layout(**layout)
fig.write_html("out.html")
